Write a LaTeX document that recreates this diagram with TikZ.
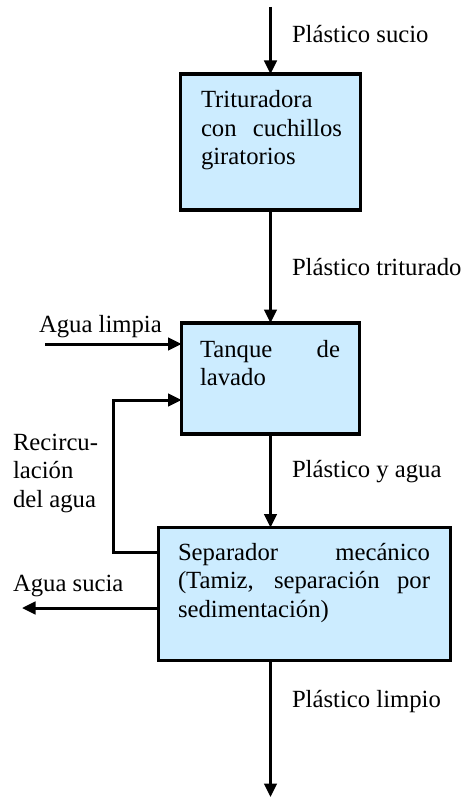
\documentclass[tikz,border=0pt]{standalone}
\usepackage{fontspec}
\setmainfont{Liberation Serif}
\usetikzlibrary{arrows.meta,calc}
\definecolor{boxblue}{RGB}{204,236,255}
\tikzset{
  procbox/.style={draw=black, line width=3.5pt, fill=boxblue, inner sep=0pt, outer sep=0pt},
  arr/.style={line width=3pt, -{Triangle[width=12.5pt,length=13.5pt]}},
  plainline/.style={line width=3pt},
  lbl/.style={inner sep=0pt, outer sep=0pt, font=\fontsize{24.7}{28.5}\selectfont, anchor=base west},
  btext/.style={inner sep=0pt, outer sep=0pt, font=\fontsize{24.7}{28.5}\selectfont, align=left, anchor=north west}
}
\begin{document}
\begin{tikzpicture}[x=1pt,y=-1pt]
\useasboundingbox (0,0) rectangle (467,799);
% boxes
\node[procbox, minimum width=180pt, minimum height=136pt] (b1) at (270.5,142) {};
\node[procbox, minimum width=178pt, minimum height=111pt] (b2) at (270.5,378.5) {};
\node[procbox, minimum width=292pt, minimum height=133pt] (b3) at (304.5,594) {};
% box texts
\node[btext] (t1) at (201,88.05) {\strut Trituradora\\\makebox[141pt][s]{con cuchillos}\\giratorios};
\node[btext] (t2) at (200,337.05) {\strut\makebox[140pt][s]{Tanque de}\\lavado};
\node[btext] (t3) at (178,540.05) {\strut\makebox[252pt][s]{Separador mecánico}\\\makebox[252pt][s]{(Tamiz, separación por}\\sedimentación)};
% coordinates
\coordinate (top) at (270.5,7);
\coordinate (inL) at (45,344);
\coordinate (r1) at (113,552);
\coordinate (r2) at (113,400);
\coordinate (out) at (22,608);
\coordinate (bot) at (270.5,797);
% connectors
\draw[arr] (top) -- (b1.north);
\draw[arr] (b1.south) -- (b2.north);
\draw[arr] (inL) -- (inL -| b2.west);
\draw[arr] (r1 -| b3.west) -- (r1) -- (r2) -- (r2 -| b2.west);
\draw[arr] (b2.south) -- (b2.south |- b3.north);
\draw[arr] (out -| b3.west) -- (out);
\draw[arr] (bot |- b3.south) -- (bot);
% labels
\node[lbl] (l1) at (292,43) {Plástico sucio};
\node[lbl] (l2) at (292,275) {Plástico triturado};
\node[lbl] (l3) at (39,332) {Agua limpia};
\node[lbl] (l4) at (292,477) {Plástico y agua};
\node[btext] (l5) at (13,430.05) {\strut Recircu-\\lación\\del agua};
\node[lbl] (l6) at (13,591) {Agua sucia};
\node[lbl] (l7) at (292,707) {Plástico limpio};
\end{tikzpicture}
\end{document}
